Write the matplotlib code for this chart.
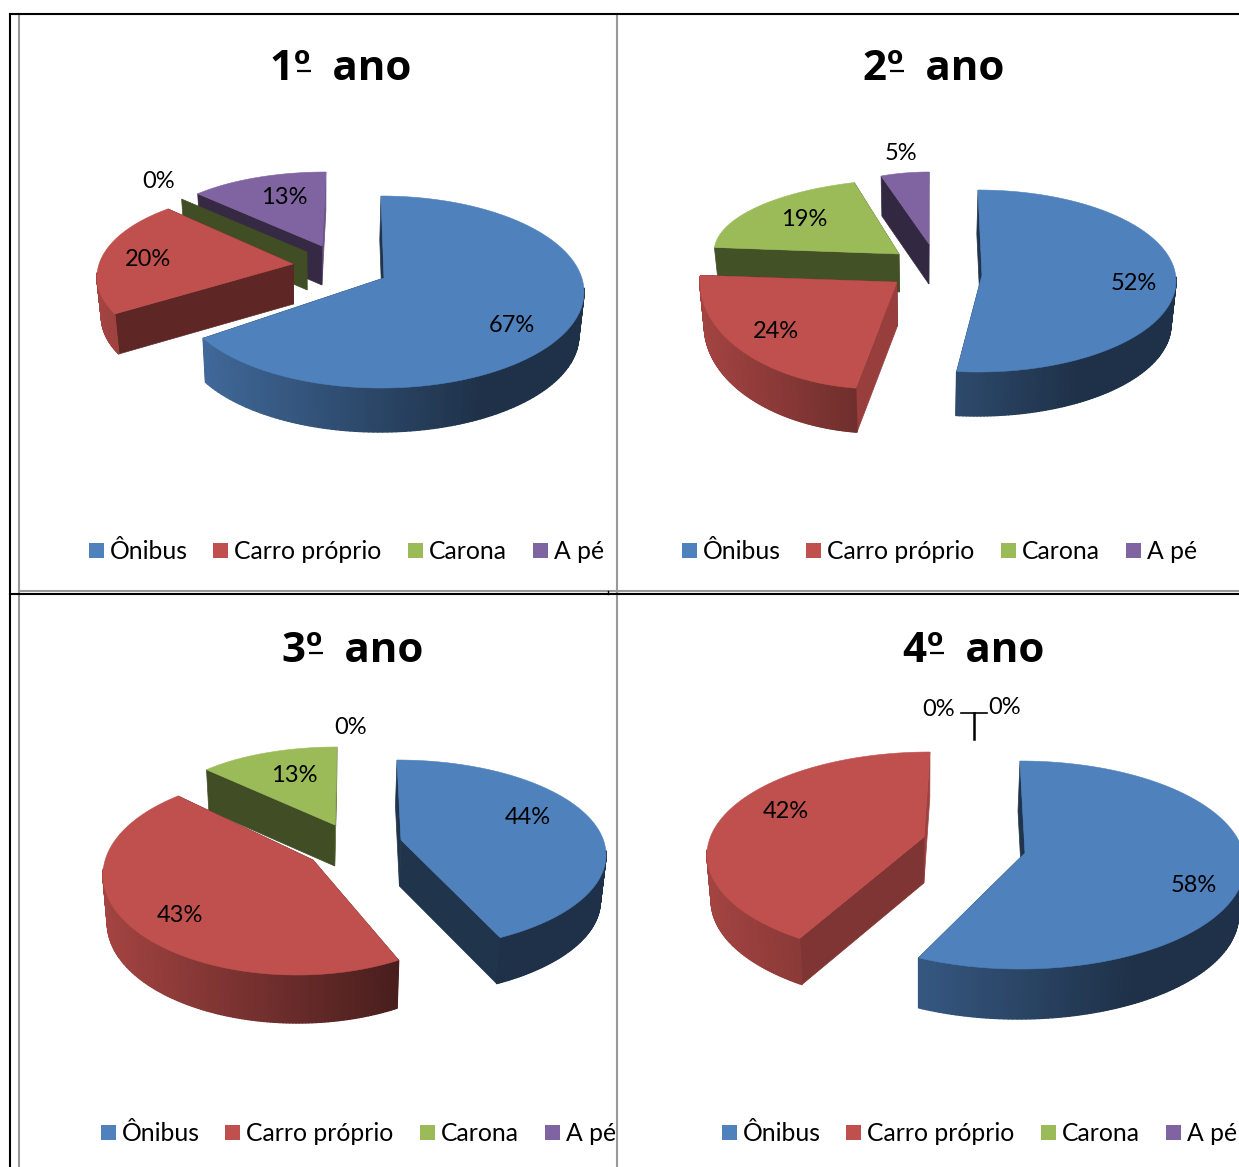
import matplotlib
matplotlib.use("Agg")
import matplotlib.pyplot as plt
import numpy as np
from matplotlib.collections import PolyCollection
from matplotlib.colors import to_rgb
from matplotlib.patches import Polygon, Rectangle

plt.rcParams["font.family"] = ["Lato", "DejaVu Sans"]

# Data
categories = ["Ônibus", "Carro próprio", "Carona", "A pé"]
titles = ["1º  ano", "2º  ano", "3º  ano", "4º  ano"]
values_1 = [67, 20, 0, 13]
values_2 = [52, 24, 19, 5]
values_3 = [44, 43, 13, 0]
values_4 = [58, 42, 0, 0]
all_values = [values_1, values_2, values_3, values_4]

colors = ["#4F81BD", "#C0504D", "#9BBB59", "#8064A2"]

# Layout, in pixels of the picture
title_pos = [(341, 69), (934, 69), (353, 651), (974, 651)]
legend_left = [(89, 550), (682, 550), (101, 1132), (722, 1132)]
legend_steps = [0, 124, 319, 444]
label_pos = [
    [(512, 325), (148, 259), (159, 181), (284, 197)],
    [(1134, 283), (776, 331), (804, 219), (901, 153)],
    [(528, 817), (180, 915), (294, 775), (351, 727)],
    [(1194, 885), (786, 811), (939, 709), (1005, 707)],
]
draw_order = [[3, 2, 0, 1], [3, 2, 0, 1], [3, 2, 0, 1], [0, 1]]
vanish_x = [320, 920, 320, 920]

# tip x, tip y, centre x, centre y, rx, ry, depth, start shift, end shift
wedge_geo = [
    [(384, 278, 381, 292, 203, 96, 44, 0, 0),
     (293, 264, 274, 277, 177, 85, 40, 3, 10),
     (307, 252, 307, 247, 172, 70, 38, 0, 0),
     (322, 246, 326, 241, 176, 69, 39, 0, 0)],
    [(982, 275, 978, 281, 198, 91, 44, 0, -1),
     (897, 282, 878, 282, 178, 107, 44, 0, 0),
     (899, 254, 917, 252, 203, 73, 38, 0, 0),
     (929, 244, 929, 254, 155, 82, 40, 0, 0)],
    [(401, 840, 397, 855, 209, 95, 46, 0, -8),
     (313, 860, 297, 875, 194, 100, 48, -10, 9),
     (335, 825, 337, 819, 179, 72, 41, 0, 0),
     (335, 825, 337, 819, 179, 72, 41, 0, 0)],
    [(1025, 853, 1020, 865, 225, 104, 50, 0, -2),
     (924, 837, 930, 855, 223, 103, 46, 7, 0),
     (930, 752, 930, 855, 223, 103, 46, 0, 0),
     (930, 752, 930, 855, 223, 103, 46, 0, 0)],
]


def shaded(color, k):
    return tuple(c * k for c in to_rgb(color))


def face_shade(normal):
    return np.interp(normal % 360, [80, 90, 120, 150, 185, 250, 360],
                     [0.4, 0.82, 0.7, 0.5, 0.43, 0.4, 0.4])


def draw_wedge(ax, start, end, geo, color, vx):
    tx, ty, cx, cy, rx, ry, depth, d0, d1 = geo
    th = np.radians(np.linspace(start + d0, end + d1, 180))
    xs = cx + rx * np.sin(th)
    ys = cy - ry * np.cos(th)
    # the bottom of the slice leans a bit to the middle of the chart
    low_xs = vx + (xs - vx) * 0.98
    low_tx = vx + (tx - vx) * 0.98

    # flat faces at both ends of the slice, the one turned away goes first
    faces = [(0, start + d0 - 90)]
    if end > start:
        faces.append((-1, end + d1 + 90))
    faces.sort(key=lambda f: -np.cos(np.radians(f[1])))
    for i, normal in faces:
        face = [(tx, ty), (xs[i], ys[i]), (low_xs[i], ys[i] + depth), (low_tx, ty + depth)]
        c = shaded(color, face_shade(normal))
        ax.add_patch(Polygon(face, fc=c, ec=c, lw=0.5))

    # outer wall, cut in strips for the light gradient
    strips, strip_colors = [], []
    for i in range(len(th) - 1):
        if np.cos(th[i]) > 0.05:
            continue
        strips.append([(xs[i], ys[i]), (xs[i + 1], ys[i + 1]),
                       (low_xs[i + 1], ys[i + 1] + depth), (low_xs[i], ys[i] + depth)])
        strip_colors.append(shaded(color, np.clip(0.54 - 0.31 * np.sin(th[i]), 0.38, 0.85)))
    if strips:
        ax.add_collection(PolyCollection(strips, facecolors=strip_colors,
                                         edgecolors=strip_colors, linewidths=1.0))

    # top of the slice
    if end > start:
        top = [(tx, ty)] + list(zip(xs, ys))
        ax.add_patch(Polygon(top, fc=color, ec=color, lw=0.4))


fig = plt.figure(figsize=(12.39, 11.67), dpi=100)
ax = fig.add_axes([0, 0, 1, 1])
ax.set_xlim(0, 1239)
ax.set_ylim(1167, 0)
ax.axis("off")

# table lines behind the charts
ax.plot([19, 19], [14, 1167], color="#999999", lw=1.5)
ax.plot([617, 617], [14, 1167], color="#999999", lw=1.5)
ax.plot([19, 1239], [591, 591], color="#999999", lw=1.5)
ax.plot([10, 10], [14, 1167], color="black", lw=1.5)
ax.plot([10, 1239], [14, 14], color="black", lw=1.5)
ax.plot([10, 1239], [594, 594], color="black", lw=1.5)
ax.plot([608, 608], [591, 594], color="black", lw=1)

for p, values in enumerate(all_values):
    cum = np.cumsum([0] + values) * 3.6
    for i in draw_order[p]:
        draw_wedge(ax, cum[i], cum[i + 1], wedge_geo[p][i], colors[i], vanish_x[p])

    tx, ty = title_pos[p]
    ax.text(tx, ty, titles[p], fontsize=30.3, fontweight="bold", family="Open Sans",
            ha="center", va="center", color="black")
    # the ordinal sign has a bar under it in the original font
    ax.plot([tx - 44, tx - 30], [ty + 2, ty + 2], color="black", lw=1.6, solid_capstyle="butt")

    for i, v in enumerate(values):
        lx, ly = label_pos[p][i]
        ax.text(lx, ly, f"{v}%", fontsize=17, ha="center", va="center", color="black")

    x0, y0 = legend_left[p]
    for step, cat, col in zip(legend_steps, categories, colors):
        ax.add_patch(Rectangle((x0 + step, y0 - 7), 15, 15, fc=col, ec="none"))
        ax.text(x0 + step + 21, y0 + 1.5, cat, fontsize=17.8, ha="left", va="center", color="black")

# leader lines of the two empty slices in the last chart
ax.plot([961, 987], [713, 713], color="black", lw=1.2)
ax.plot([974, 974], [713, 739], color="black", lw=1.8)

fig.savefig("out.png", dpi=100)
